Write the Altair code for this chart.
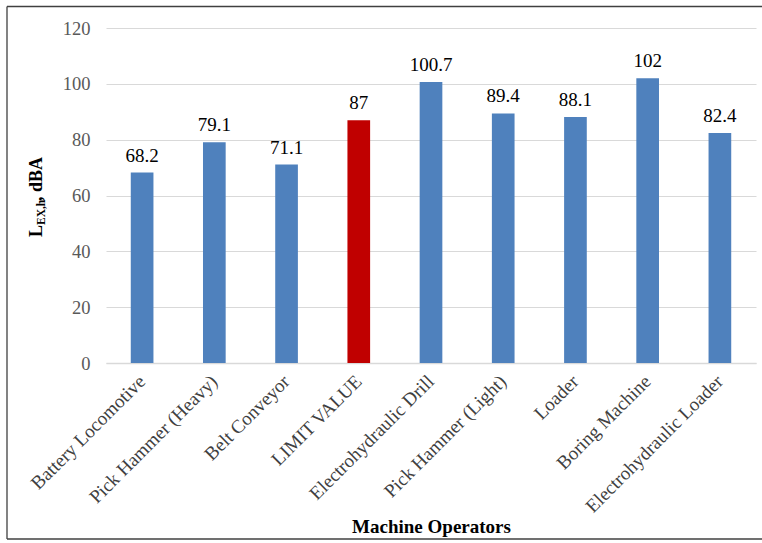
import altair as alt
import pandas as pd

categories = ["Battery Locomotive", "Pick Hammer (Heavy)", "Belt Conveyor", "LIMIT VALUE",
              "Electrohydraulic Drill", "Pick Hammer (Light)", "Loader", "Boring Machine",
              "Electrohydraulic Loader"]
values = [68.2, 79.1, 71.1, 87, 100.7, 89.4, 88.1, 102, 82.4]
kinds = ["machine", "machine", "machine", "limit", "machine", "machine", "machine", "machine", "machine"]
value_labels = ["68.2", "79.1", "71.1", "87", "100.7", "89.4", "88.1", "102", "82.4"]
y_ticks = [0, 20, 40, 60, 80, 100, 120]

df = pd.DataFrame({"cat": categories, "val": values, "kind": kinds, "lab": value_labels})

FONT = "Liberation Serif"

x_enc = alt.X("cat:N", sort=categories,
              scale=alt.Scale(paddingInner=0.686, paddingOuter=0.343),
              axis=alt.Axis(title="Machine Operators", labelAngle=-45, labelAlign="right",
                            labelBaseline="middle", labelFont=FONT, labelFontSize=19,
                            labelColor="#404040", labelPadding=15, ticks=False,
                            domainColor="#d9d9d9", domainWidth=1.3,
                            titleFont=FONT, titleFontSize=19, titleFontWeight="bold",
                            titleColor="#000000", titleY=169, titleBaseline="alphabetic",
                            labelLimit=300))
y_enc = alt.Y("val:Q", scale=alt.Scale(domain=[0, 120]),
              axis=alt.Axis(title=None, values=y_ticks, format="d", labelFont=FONT,
                            labelFontSize=18.5, labelColor="#595959", labelPadding=16,
                            ticks=False, domain=False, gridColor="#d9d9d9", gridWidth=1))

bars = alt.Chart(df).mark_bar().encode(
    x=x_enc, y=y_enc,
    color=alt.Color("kind:N", scale=alt.Scale(domain=["machine", "limit"],
                                              range=["#4F81BD", "#C00000"]), legend=None),
)

texts = alt.Chart(df).mark_text(font=FONT, fontSize=19, color="#000000",
                                baseline="alphabetic", dy=-11).encode(
    x=alt.X("cat:N", sort=categories), y=alt.Y("val:Q"), text="lab:N")

one = pd.DataFrame({"a": [0]})
border_col = "#404040"
top_b = alt.Chart(one).mark_rule(color=border_col, strokeWidth=1.3).encode(
    x=alt.value(-99), x2=alt.value(660), y=alt.value(-21.5))
left_b = alt.Chart(one).mark_rule(color=border_col, strokeWidth=1.3).encode(
    x=alt.value(-99), y=alt.value(-21.5), y2=alt.value(511))
bot_b = alt.Chart(one).mark_rule(color=border_col, strokeWidth=1.3).encode(
    x=alt.value(-99), x2=alt.value(660), y=alt.value(511))

t_L = alt.Chart(one).mark_text(font=FONT, fontSize=18, fontWeight="bold", angle=270,
                               align="left", baseline="alphabetic", text="L").encode(
    x=alt.value(-64), y=alt.value(209))
t_sub = alt.Chart(one).mark_text(font=FONT, fontSize=11.5, fontWeight="bold", angle=270,
                                 align="left", baseline="alphabetic", text="EX,h").encode(
    x=alt.value(-61), y=alt.value(197))
t_rest = alt.Chart(one).mark_text(font=FONT, fontSize=18, fontWeight="bold", angle=270,
                                  align="left", baseline="alphabetic", text=", dBA").encode(
    x=alt.value(-64), y=alt.value(173))

chart = alt.layer(bars, texts, top_b, left_b, bot_b, t_L, t_sub, t_rest).properties(
    width=650, height=335,
    autosize=alt.AutoSizeParams(type="none"),
    padding={"left": 106, "top": 28, "right": 6, "bottom": 180},
    background="white",
).configure_view(stroke=None)

chart.save("out.html", embed_options={"renderer": "svg", "actions": False})
